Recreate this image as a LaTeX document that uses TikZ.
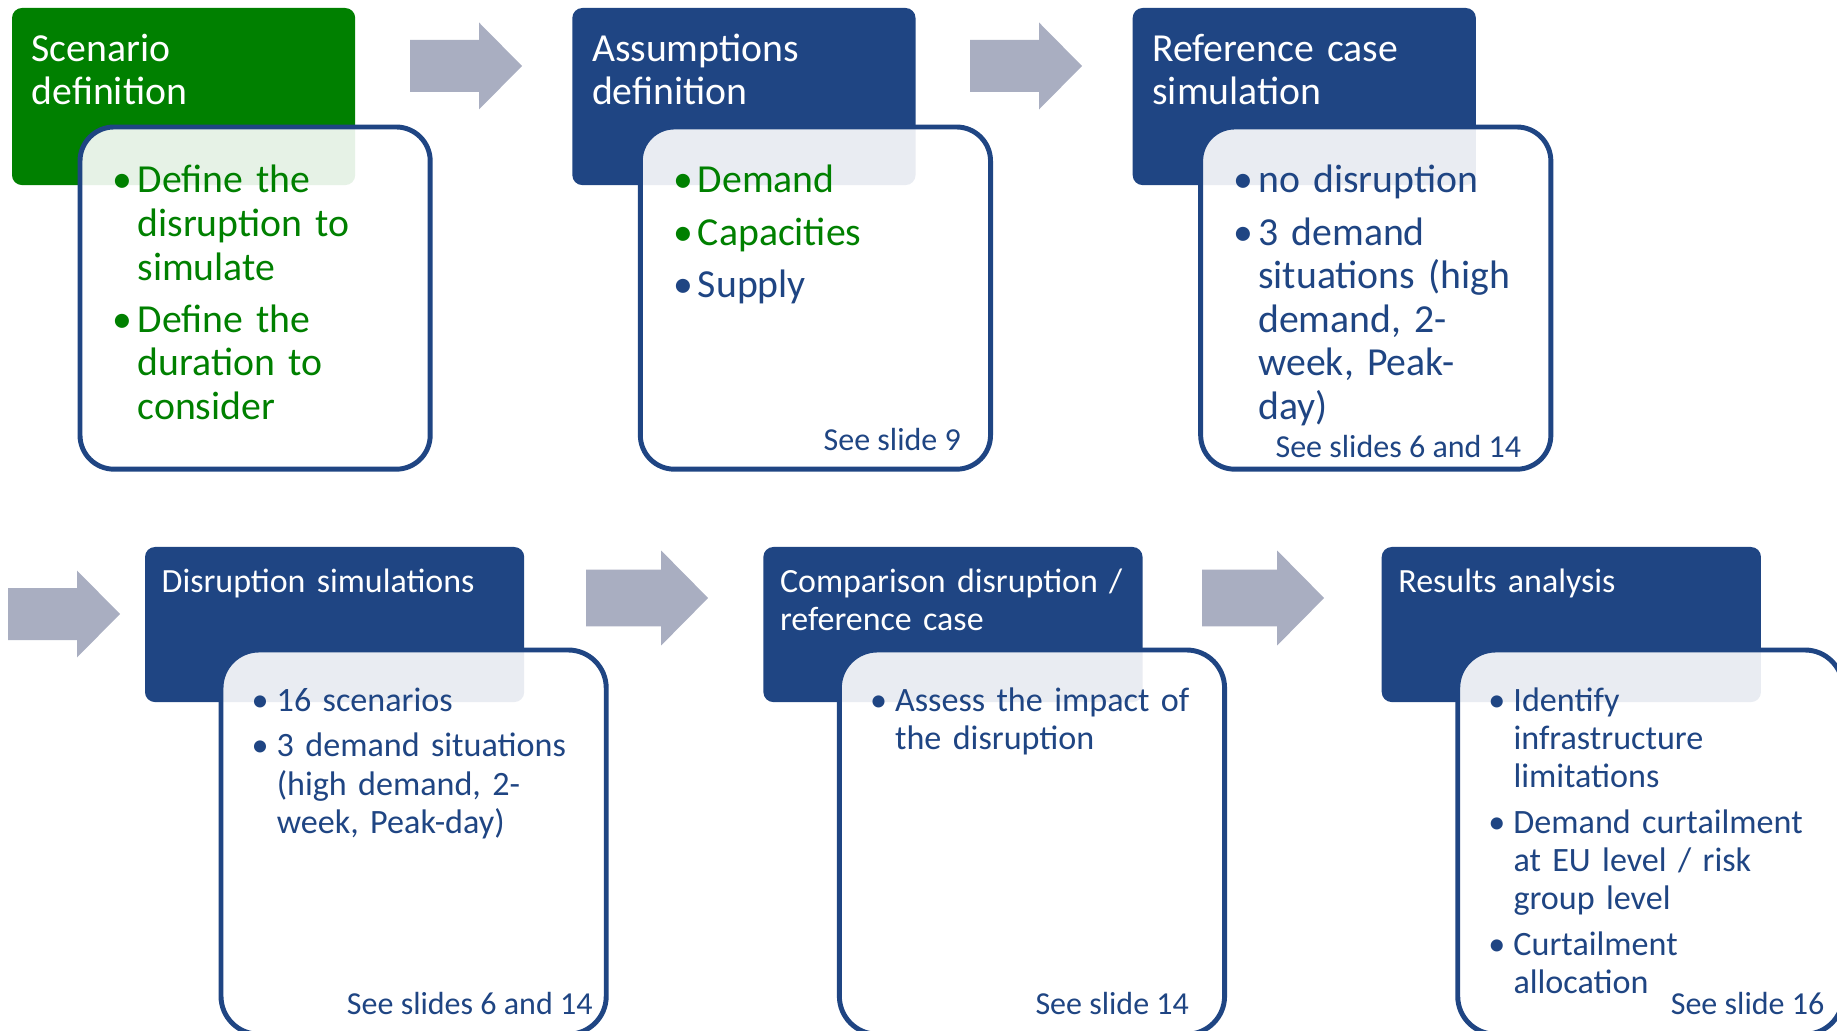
\documentclass[tikz,border=0pt]{standalone}
\usepackage{fontspec}
\setmainfont{Carlito}
\usetikzlibrary{positioning}

\definecolor{eugreen}{RGB}{0,128,0}
\definecolor{eublue}{RGB}{31,69,131}
\definecolor{arrowgray}{RGB}{169,174,193}

\newlength\bulhang
\newlength\itmgap
% one bullet paragraph, lines after the first hang under the text
\newcommand{\itm}[2][eublue]{%
  \hangindent=\bulhang\hangafter=1
  {\color{#1}\makebox[\bulhang][c]{\textbullet}#2}\par\vspace{\itmgap}}
% grey block arrow, tail at (#2,#3)
\newcommand{\blockarrow}[3][1]{%
  \fill[arrowgray, shift={(#2,#3)}, scale=#1]
    (0,-26) -- (69,-26) -- (69,-43.5) -- (112,0) -- (69,43.5) -- (69,26) -- (0,26) -- cycle;}

\begin{document}
\begin{tikzpicture}[x=0.01cm, y=-0.01cm,
  stagehead/.style={fill=#1, rounded corners=0.1cm, inner sep=0pt, outer sep=0pt, anchor=north west},
  headA/.style={stagehead=#1, minimum width=3.43cm, minimum height=1.77cm},
  headB/.style={stagehead=#1, minimum width=3.79cm, minimum height=1.55cm},
  stagebox/.style={draw=eublue, line width=1.4pt, fill=white, fill opacity=0.9, inner sep=0pt, outer sep=0pt, anchor=north west},
  boxA/.style={stagebox, minimum width=3.5cm, minimum height=3.42cm, rounded corners=0.34cm},
  boxB/.style={stagebox, minimum width=3.85cm, minimum height=3.84cm, rounded corners=0.38cm},
  stagetitle/.style={text=white, anchor=base west, inner sep=0pt, text width=3.3cm, align=left},
  titleA/.style={stagetitle, font=\fontsize{11.3}{12.1}\selectfont},
  titleB/.style={stagetitle, font=\fontsize{9.65}{11}\selectfont, text width=3.6cm},
  stageitems/.style={text=eublue, anchor=base west, inner sep=0pt, text width=3.5cm},
  itemsA/.style={stageitems, font=\fontsize{11.3}{12.4}\selectfont\setlength\bulhang{8.5pt}\setlength\itmgap{2.4pt}},
  itemsB/.style={stageitems, font=\fontsize{9.7}{10.85}\selectfont\setlength\bulhang{9.4pt}\setlength\itmgap{2.2pt}},
  seeref/.style={text=eublue, anchor=base east, inner sep=0pt, font=\fontsize{9.1}{10}\selectfont}
]
\useasboundingbox (0,0) rectangle (1837,1031);

% top row: headers
\node[headA=eugreen] (h1) at (12,8) {};
\node[headA=eublue, right=2.17cm of h1] (h2) {};
\node[headA=eublue, right=2.17cm of h2] (h3) {};
\node[titleA] (t1) at ([shift={(19,54)}]h1.north west) {Scenario\\definition};
\node[titleA] (t2) at ([shift={(19,54)}]h2.north west) {Assumptions\\definition};
\node[titleA] (t3) at ([shift={(19,54)}]h3.north west) {Reference case\\simulation};

% top row: content boxes
\node[boxA] (b1) at ([shift={(68,119)}]h1.north west) {};
\node[boxA] (b2) at ([shift={(68,119)}]h2.north west) {};
\node[boxA] (b3) at ([shift={(68,119)}]h3.north west) {};

\node[itemsA] (l1) at ([shift={(27,66)}]b1.north west) {%
  \itm[eugreen]{Define the\newline disruption to\newline simulate}%
  \itm[eugreen]{Define the\newline duration to\newline consider}};
\node[itemsA] (l2) at ([shift={(27,66)}]b2.north west) {%
  \itm[eugreen]{Demand}%
  \itm[eugreen]{Capacities}%
  \itm{Supply}};
\node[itemsA] (l3) at ([shift={(27,66)}]b3.north west) {%
  \itm{no disruption}%
  \itm{3 demand\newline situations (high\newline demand, 2-\newline week, Peak-\newline day)}};
\node[seeref] (s2) at ([shift={(-29,-19)}]b2.south east) {See slide 9};
\node[seeref] (s3) at ([shift={(-29,-12)}]b3.south east) {See slides 6 and 14};

% bottom row: headers
\node[headB=eublue] (h4) at (145,547) {};
\node[headB=eublue, right=2.39cm of h4] (h5) {};
\node[headB=eublue, right=2.39cm of h5] (h6) {};
\node[titleB] (t4) at ([shift={(16,45)}]h4.north west) {Disruption simulations};
\node[titleB] (t5) at ([shift={(16,45)}]h5.north west) {Comparison disruption /\\reference case};
\node[titleB] (t6) at ([shift={(16,45)}]h6.north west) {Results analysis};

% bottom row: content boxes
\node[boxB] (b4) at ([shift={(76,103)}]h4.north west) {};
\node[boxB] (b5) at ([shift={(76,103)}]h5.north west) {};
\node[boxB] (b6) at ([shift={(76,103)}]h6.north west) {};

\node[itemsB] (l4) at ([shift={(22,61)}]b4.north west) {%
  \itm{16 scenarios}%
  \itm{3 demand situations\newline (high demand, 2-\newline week, Peak-day)}};
\node[itemsB] (l5) at ([shift={(22,61)}]b5.north west) {%
  \itm{Assess the impact of\newline the disruption}};
\node[itemsB] (l6) at ([shift={(22,61)}]b6.north west) {%
  \itm{Identify\newline infrastructure\newline limitations}%
  \itm{Demand curtailment\newline at EU level / risk\newline group level}%
  \itm{Curtailment\newline allocation}};
\node[seeref] (s4) at ([shift={(-13,-20)}]b4.south east) {See slides 6 and 14};
\node[seeref] (s5) at ([shift={(-35,-20)}]b5.south east) {See slide 14};
\node[seeref] (s6) at ([shift={(-18,-20)}]b6.south east) {See slide 16};

% block arrows between the stages
\blockarrow{410}{66}
\blockarrow{970}{66}
\blockarrow{8}{614}
\blockarrow[1.09]{586}{598}
\blockarrow[1.09]{1202}{598}

\end{tikzpicture}
\end{document}
